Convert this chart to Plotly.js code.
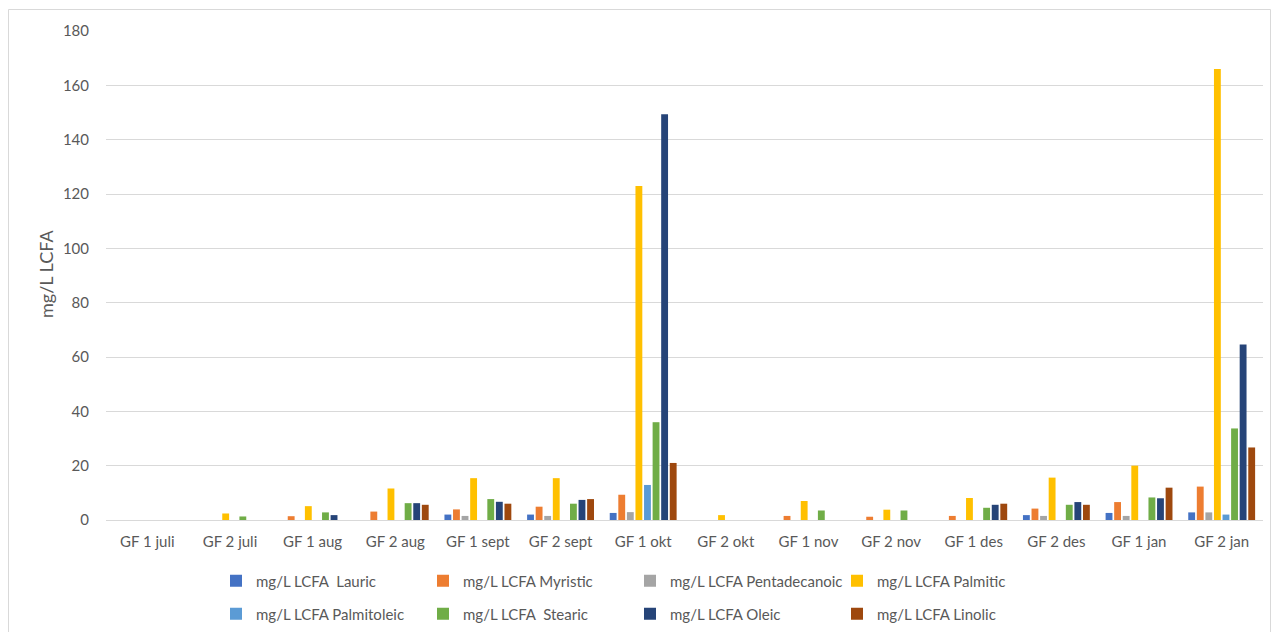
<!DOCTYPE html>
<html>
<head>
<meta charset="utf-8">
<script src="https://cdn.plot.ly/plotly-3.0.1.min.js"></script>
<style>html,body{margin:0;padding:0;background:#fff;}#chart{width:1272px;height:632px;}</style>
</head>
<body>
<div id="chart"></div>
<script>
const categories = ["GF 1 juli","GF 2 juli","GF 1 aug","GF 2 aug","GF 1 sept","GF 2 sept","GF 1 okt","GF 2 okt","GF 1 nov","GF 2 nov","GF 1 des","GF 2 des","GF 1 jan","GF 2 jan"];

const seriesNames = ["mg/L LCFA\u00a0 Lauric","mg/L LCFA Myristic","mg/L LCFA Pentadecanoic","mg/L LCFA Palmitic","mg/L LCFA Palmitoleic","mg/L LCFA\u00a0 Stearic","mg/L LCFA Oleic","mg/L LCFA Linolic"];
const seriesColors = ["#4472C4","#ED7D31","#A5A5A5","#FFC000","#5B9BD5","#70AD47","#264478","#9E480E"];

const lauric       = [0, 0,   0,   0,    2.0, 2.0, 2.6,   0,   0,   0,   0,   1.8, 2.6, 2.8];
const myristic     = [0, 0,   1.4, 3.1,  3.9, 4.9, 9.3,   0,   1.5, 1.2, 1.5, 4.2, 6.6, 12.3];
const pentadecanoic= [0, 0,   0,   0,    1.5, 1.5, 2.9,   0,   0,   0,   0,   1.5, 1.5, 2.8];
const palmitic     = [0, 2.4, 5.1, 11.6, 15.4,15.4,122.9, 1.8, 7.0, 3.8, 8.1, 15.6,20.0,166.0];
const palmitoleic  = [0, 0,   0,   0,    0,   0,   12.9,  0,   0,   0,   0,   0,   0,   2.0];
const stearic      = [0, 1.3, 2.8, 6.2,  7.7, 6.0, 36.0,  0,   3.5, 3.5, 4.5, 5.6, 8.3, 33.7];
const oleic        = [0, 0,   1.8, 6.2,  6.7, 7.4, 149.4, 0,   0,   0,   5.6, 6.6, 8.0, 64.6];
const linolic      = [0, 0,   0,   5.6,  6.0, 7.7, 21.0,  0,   0,   0,   6.0, 5.6, 11.9,26.7];

const seriesValues = [lauric, myristic, pentadecanoic, palmitic, palmitoleic, stearic, oleic, linolic];

const W = 1272, H = 632;
const ml = 106, mr = 9, mt = 31, mb = 112;
const pw = W - ml - mr, ph = H - mt - mb;
const px2x = p => (p - ml) / pw;
const px2y = p => (H - mb - p) / ph;

const traces = seriesValues.map((vals, i) => ({
  type: 'bar',
  name: seriesNames[i],
  x: categories,
  y: vals,
  marker: {color: seriesColors[i], line: {width: 0}},
  legend: i < 4 ? 'legend' : 'legend2',
  hoverinfo: 'x+y+name'
}));

const fontFam = 'Lato, "Open Sans", "Liberation Sans", sans-serif';
const grey = '#595959';

const legendCommon = {
  orientation: 'h',
  xanchor: 'left',
  yanchor: 'middle',
  x: px2x(216),
  entrywidth: 162,
  entrywidthmode: 'pixels',
  font: {family: fontFam, size: 15, color: grey},
  bgcolor: 'rgba(0,0,0,0)',
  borderwidth: 0,
  traceorder: 'normal'
};

const layout = {
  width: W, height: H,
  margin: {l: ml, r: mr, t: mt, b: mb, pad: 0, autoexpand: false},
  paper_bgcolor: '#fff',
  plot_bgcolor: '#fff',
  font: {family: fontFam, color: grey, size: 15},
  barmode: 'group',
  bargap: 0.17,
  bargroupgap: 0.2,
  showlegend: true,
  legend: Object.assign({}, legendCommon, {y: px2y(581)}),
  legend2: Object.assign({}, legendCommon, {y: px2y(614)}),
  xaxis: {
    type: 'category',
    showgrid: false,
    showline: false,
    zeroline: false,
    ticks: '',
    tickfont: {family: fontFam, size: 15, color: grey},
    ticklabelstandoff: 11,
    automargin: false,
    fixedrange: true
  },
  yaxis: {
    range: [0, 180],
    dtick: 20,
    tick0: 0,
    showgrid: true,
    gridcolor: '#d9d9d9',
    gridwidth: 1,
    zeroline: true,
    zerolinecolor: '#d9d9d9',
    zerolinewidth: 1,
    showline: false,
    ticks: '',
    ticklabelstandoff: 16,
    tickfont: {family: fontFam, size: 15, color: grey},
    automargin: false,
    fixedrange: true
  },
  annotations: [{
    text: 'mg/L LCFA',
    xref: 'paper', yref: 'paper',
    x: px2x(46), y: px2y(274),
    xanchor: 'center', yanchor: 'middle',
    textangle: -90,
    showarrow: false,
    font: {family: fontFam, size: 18, color: grey}
  }],
  shapes: [{
    type: 'rect',
    xref: 'paper', yref: 'paper',
    x0: px2x(8.5), x1: px2x(1270.5),
    y0: px2y(645), y1: px2y(9.5),
    line: {color: '#d9d9d9', width: 1},
    fillcolor: 'rgba(0,0,0,0)',
    layer: 'below'
  }]
};

Plotly.newPlot('chart', traces, layout, {displayModeBar: false, staticPlot: true});
</script>
</body>
</html>
